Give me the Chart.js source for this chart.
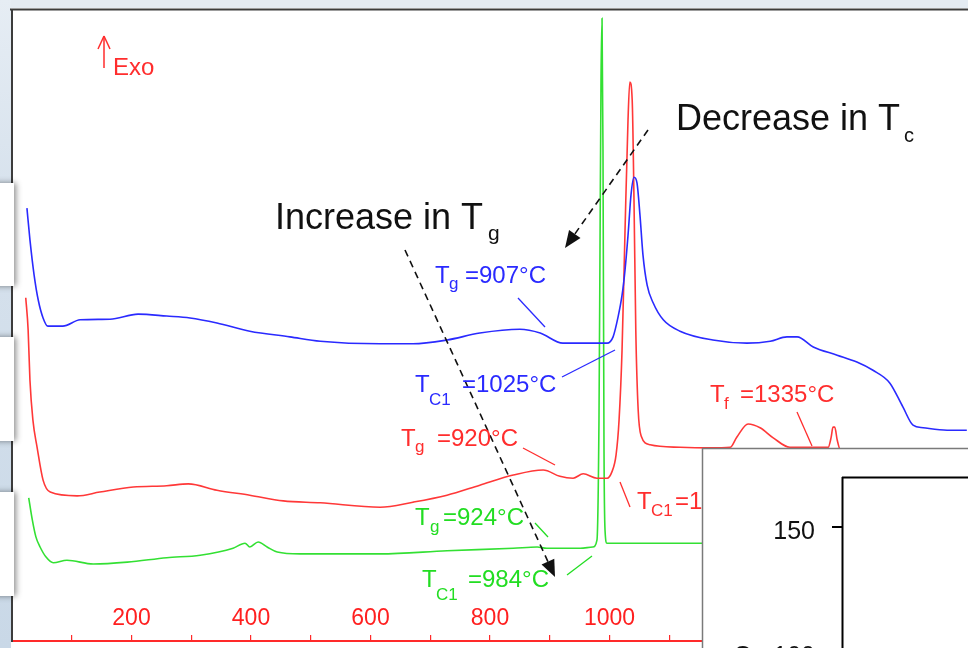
<!DOCTYPE html>
<html><head><meta charset="utf-8">
<script src="https://cdn.jsdelivr.net/npm/chart.js@4.4.1/dist/chart.umd.min.js"></script>
<style>html,body{margin:0;padding:0;background:#fff;overflow:hidden}canvas{display:block}</style>
</head><body>
<canvas id="c" width="968" height="648"></canvas>
<script>
// ---- data (temperature in °C, DTA signal in arbitrary units) ----
const xLabeled = [200, 400, 600, 800, 1000, 1200, 1400];
const blueT = [25,30,37,44,52,60,85,114,164,211,259,298,343,398,465,516,616,671,728,783,850,884,922,951,996,1006,1014,1021,1026,1031,1036,1041,1046,1051,1056,1063,1073,1090,1118,1173,1230,1269,1297,1314,1341,1381,1414,1441,1469,1491,1508,1525,1565,1598];
const blueV = [68.6,63.6,58.0,54.0,51.2,49.9,49.9,50.9,51.0,51.8,51.5,51.2,50.4,49.1,48.2,47.5,47.1,47.1,47.7,48.8,49.4,48.8,47.2,47.2,47.2,48.2,51.2,54.8,58.8,64.3,70.7,73.5,72.6,67.5,61.2,56.4,53.6,50.9,49.1,47.7,47.2,47.5,48.2,48.2,46.6,45.3,44.2,42.9,40.9,37.1,34.2,33.8,33.4,33.4];
const redT = [23,27,30,35,42,52,64,109,147,203,259,295,343,398,454,516,616,671,728,783,839,889,917,939,956,979,996,1004,1011,1016,1021,1026,1031,1034,1038,1041,1044,1048,1053,1068,1118,1168,1202,1213,1232,1252,1274,1302,1366,1371,1374,1377,1381,1386,1600];
const redV = [54.4,49.3,41.4,35.0,30.7,25.5,23.6,23.0,23.6,24.4,24.6,24.9,23.9,23.1,22.2,21.9,21.2,22.0,23.1,24.7,26.3,27.1,26.1,25.8,26.5,25.8,25.8,26.8,29.5,35.0,46.1,65.1,82.6,88.6,85.7,69.9,49.3,36.6,32.5,31.1,30.7,30.6,30.7,32.3,34.4,33.8,32.2,30.7,30.7,32.3,33.9,33.9,31.9,30.4,29.9];
const greenT = [28,34,40,47,57,69,92,136,193,259,315,370,390,398,412,427,444,482,616,728,839,879,895,951,972,979,982.4,984.1,985.8,987.5,989.1,990.8,992.5,995.8,1068,1600];
const greenV = [22.7,19.2,16.5,14.9,13.3,12.4,12.8,12.2,12.5,13.2,13.6,14.7,15.5,14.9,15.7,14.9,14.1,13.8,13.8,14.3,14.7,14.9,14.7,14.7,14.9,16.0,35.0,62.0,88.9,98.7,77.8,30.3,17.6,15.5,15.5,15.5];

const pts = (xs, ys) => xs.map((x, i) => ({x, y: ys[i]}));
const FONT = '"Liberation Sans", Arial, sans-serif';

function txt(ctx, s, x, y, size, color, align) {
  ctx.font = size + 'px ' + FONT;
  ctx.fillStyle = color;
  ctx.textAlign = align || 'left';
  ctx.textBaseline = 'alphabetic';
  ctx.fillText(s, x, y);
}
function seg(ctx, x1, y1, x2, y2, color, w, dash) {
  ctx.save();
  ctx.strokeStyle = color; ctx.lineWidth = w || 1.3;
  ctx.setLineDash(dash || []);
  ctx.beginPath(); ctx.moveTo(x1, y1); ctx.lineTo(x2, y2); ctx.stroke();
  ctx.restore();
}
function dashArrow(ctx, x1, y1, x2, y2) {
  const a = Math.atan2(y2 - y1, x2 - x1), L = 17, W = 7;
  const bx = x2 - L * Math.cos(a), by = y2 - L * Math.sin(a);
  seg(ctx, x1, y1, bx, by, '#111', 1.6, [7, 5]);
  ctx.save(); ctx.fillStyle = '#111'; ctx.beginPath();
  ctx.moveTo(x2, y2);
  ctx.lineTo(bx + W * Math.sin(a), by - W * Math.cos(a));
  ctx.lineTo(bx - W * Math.sin(a), by + W * Math.cos(a));
  ctx.closePath(); ctx.fill(); ctx.restore();
}

const deco = {
  id: 'deco',
  beforeDraw(chart) {
    const ctx = chart.ctx;
    ctx.save();
    ctx.fillStyle = '#ffffff'; ctx.fillRect(0, 0, 968, 648);
    ctx.fillStyle = '#e4ebf2'; ctx.fillRect(0, 0, 968, 8);
    const g = ctx.createLinearGradient(0, 0, 0, 648);
    g.addColorStop(0, '#e6edf4'); g.addColorStop(0.3, '#d7e2ed'); g.addColorStop(1, '#c9d8e7');
    ctx.fillStyle = g; ctx.fillRect(0, 0, 11, 648);
    ctx.restore();
  },
  afterDraw(chart) {
    const ctx = chart.ctx;
    ctx.save();
    // top frame
    seg(ctx, 10, 9.5, 968, 9.5, '#3c3c3c', 2);
    // Exo marker
    const R = '#ff2d2d';
    seg(ctx, 104, 68, 104, 36, R, 1.5);
    seg(ctx, 98, 49, 104, 36, R, 1.5);
    seg(ctx, 110, 49, 104, 36, R, 1.5);
    txt(ctx, 'Exo', 113, 75, 24, R);
    // big black annotations
    txt(ctx, 'Decrease in T', 676, 130, 36, '#111');
    txt(ctx, 'c', 904, 142, 20, '#111');
    txt(ctx, 'Increase in T', 275, 229, 36, '#111');
    txt(ctx, 'g', 488, 240, 21, '#111');
    dashArrow(ctx, 648, 130, 565, 248);
    dashArrow(ctx, 405, 250, 555, 577);
    // blue labels
    const B = '#2a2aff';
    txt(ctx, 'T', 435, 283, 24, B); txt(ctx, 'g', 449, 289, 17, B); txt(ctx, '=907°C', 465, 283, 24, B);
    seg(ctx, 518, 298, 545, 327, B, 1.3);
    txt(ctx, 'T', 415, 392, 24, B); txt(ctx, 'C1', 429, 405, 17, B); txt(ctx, '=1025°C', 462, 392, 24, B);
    seg(ctx, 562, 377, 615, 350, B, 1.3);
    // red labels
    txt(ctx, 'T', 401, 446, 24, R); txt(ctx, 'g', 415, 452, 17, R); txt(ctx, '=920°C', 437, 446, 24, R);
    seg(ctx, 523, 448, 555, 465, R, 1.3);
    seg(ctx, 620, 482, 630, 507, R, 1.3);
    txt(ctx, 'T', 637, 509, 24, R); txt(ctx, 'C1', 651, 516, 17, R); txt(ctx, '=1040°C', 675, 509, 24, R);
    txt(ctx, 'T', 710, 402, 24, R); txt(ctx, 'f', 724, 409, 17, R); txt(ctx, '=1335°C', 740, 402, 24, R);
    seg(ctx, 797, 412, 812, 446, R, 1.3);
    // green labels
    const G = '#22dd22';
    txt(ctx, 'T', 415, 525, 24, G); txt(ctx, 'g', 430, 532, 17, G); txt(ctx, '=924°C', 443, 525, 24, G);
    seg(ctx, 535, 523, 548, 537, G, 1.3);
    txt(ctx, 'T', 422, 587, 24, G); txt(ctx, 'C1', 436, 600, 17, G); txt(ctx, '=984°C', 468, 587, 24, G);
    seg(ctx, 567, 575, 592, 556, G, 1.3);
    // overlapping inset panel
    ctx.fillStyle = '#ffffff'; ctx.fillRect(702, 448, 266, 200);
    seg(ctx, 702.5, 448, 702.5, 648, '#7a7a7a', 1.5);
    seg(ctx, 702, 448.5, 968, 448.5, '#7a7a7a', 1.5);
    seg(ctx, 842.5, 477, 842.5, 648, '#000', 2);
    seg(ctx, 842, 477.5, 968, 477.5, '#000', 2);
    seg(ctx, 832, 527, 842, 527, '#000', 2);
    txt(ctx, '150', 815, 539, 25, '#111', 'right');
    txt(ctx, '100', 815, 664, 25, '#111', 'right');
    txt(ctx, 'O', 733, 664, 25, '#111');
    // slide fragments on the left edge
    [[183, 286], [337, 441], [492, 596]].forEach(([a, b]) => {
      ctx.save();
      ctx.shadowColor = 'rgba(0,0,0,0.45)'; ctx.shadowBlur = 6; ctx.shadowOffsetX = 2;
      ctx.fillStyle = '#ffffff'; ctx.fillRect(-20, a, 34, b - a);
      ctx.restore();
    });
    ctx.restore();
  }
};

new Chart(document.getElementById('c').getContext('2d'), {
  type: 'scatter',
  data: {
    datasets: [
      {label: 'blue', data: pts(blueT, blueV), showLine: true, borderColor: '#2a2aff', borderWidth: 1.6, pointRadius: 0, cubicInterpolationMode: 'monotone'},
      {label: 'red', data: pts(redT, redV), showLine: true, borderColor: '#ff3838', borderWidth: 1.6, pointRadius: 0, cubicInterpolationMode: 'monotone'},
      {label: 'green', data: pts(greenT, greenV), showLine: true, borderColor: '#33e033', borderWidth: 1.6, pointRadius: 0, cubicInterpolationMode: 'monotone'}
    ]
  },
  options: {
    responsive: false, animation: false, devicePixelRatio: 1,
    layout: {padding: {left: 12, top: 10, right: 0, bottom: 0}},
    plugins: {legend: {display: false}, tooltip: {enabled: false}},
    scales: {
      x: {
        type: 'linear', min: 0, max: 1600,
        afterFit(s) { s.height = 7; s.paddingLeft = 0; s.paddingRight = 0; },
        border: {display: true, color: '#ff2a2a', width: 2},
        grid: {display: true, drawOnChartArea: false, drawTicks: true, tickLength: -6, color: '#ff2a2a', lineWidth: 1.2},
        ticks: {
          stepSize: 100, autoSkip: false, maxRotation: 0, minRotation: 0, mirror: true, padding: 9,
          color: '#ff2020', font: {family: FONT, size: 23},
          callback: (v) => xLabeled.includes(v) ? String(v) : ''
        }
      },
      y: {
        min: 0, max: 100, display: true,
        afterFit(s) { s.width = 0; s.paddingTop = 0; s.paddingBottom = 0; },
        ticks: {display: false},
        grid: {display: false},
        border: {display: true, color: '#3c3c3c', width: 2}
      }
    }
  },
  plugins: [deco]
});
</script>
</body></html>
